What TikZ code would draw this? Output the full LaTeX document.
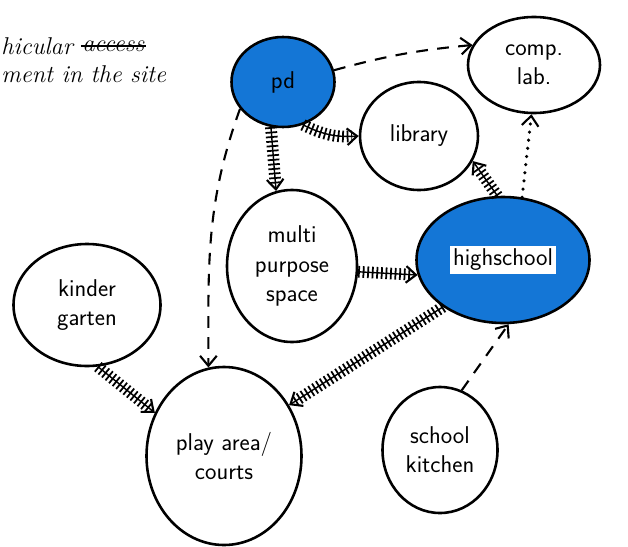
\documentclass[tikz,border=0pt]{standalone}
\usetikzlibrary{arrows.meta,positioning,shapes.geometric}
\definecolor{marker}{RGB}{20,118,214}

\begin{document}
\begin{tikzpicture}[
        x=0.03cm, y=0.03cm,
        spot/.style={draw, ellipse, line width=2.2pt, inner sep=0pt, align=center, font=\huge\sffamily},
        hl/.style={spot, fill=marker},
        note/.style={inner sep=1pt, font=\huge\itshape},
        hatch/.style={line width=1.2pt, -{Straight Barb[length=3mm, width=5mm, line width=1.8pt]},
            postaction={draw, -, line width=10pt, dash pattern=on 1.5pt off 2.4pt, shorten >=2mm}},
        dasharr/.style={line width=1.8pt, dash pattern=on 10pt off 8pt, -{Straight Barb[length=3mm, width=5mm]}},
        dotarr/.style={line width=3pt, line cap=round, dash pattern=on 0pt off 7pt,
            -{Straight Barb[length=3mm, width=5mm, line width=1.8pt]}},
    ]
        \useasboundingbox (0,0) rectangle (628,546);
        \node[note, anchor=west] (note1) at (0,500) {hicular};
        \node[note, right=2mm of note1] (note2) {access};
        \node[note, anchor=west] (note3) at (0,472) {ment in the site};
        \draw[line width=1.2pt] (note2.west) -- (note2.east);

        \node[hl, minimum width=3.09cm, minimum height=2.7cm] (pd) at (283,464) {pd};
        \node[spot, minimum width=3.96cm, minimum height=2.88cm] (lab) at (534,481) {comp.\\lab.};
        \node[spot, minimum width=3.54cm, minimum height=3.24cm] (library) at (419,410) {library};
        \node[spot, minimum width=3.9cm, minimum height=4.56cm] (multi) at (292,280) {multi\\purpose\\space};
        \node[hl, minimum width=5.19cm, minimum height=3.78cm] (high) at (503,286) {\colorbox{white}{highschool}};
        \node[spot, minimum width=4.41cm, minimum height=3.66cm] (kinder) at (87,241) {kinder\\garten};
        \node[spot, minimum width=4.65cm, minimum height=5.34cm] (play) at (224,90) {play area/\\courts};
        \node[spot, minimum width=3.45cm, minimum height=3.78cm] (kitchen) at (440,96) {school\\kitchen};

        \draw[dasharr] (pd.13) to[bend left=5] (lab.162);
        \draw[hatch] (pd.-65) to[bend right=15] (library.west);
        \draw[hatch] (pd.255) -- (multi.102);
        \draw[dasharr] (pd.212) to[out=250, in=90] (play.100);
        \draw[hatch] (high.95) -- (library.-25);
        \draw[dotarr] (high.73) -- (lab.-93);
        \draw[hatch] (multi.-5) -- (high.190);
        \draw[hatch] (high.218) -- (play.38);
        \draw[hatch] (kinder.-80) -- (play.148);
        \draw[dasharr] (kitchen.70) -- (high.-85);
    \end{tikzpicture}
\end{document}
